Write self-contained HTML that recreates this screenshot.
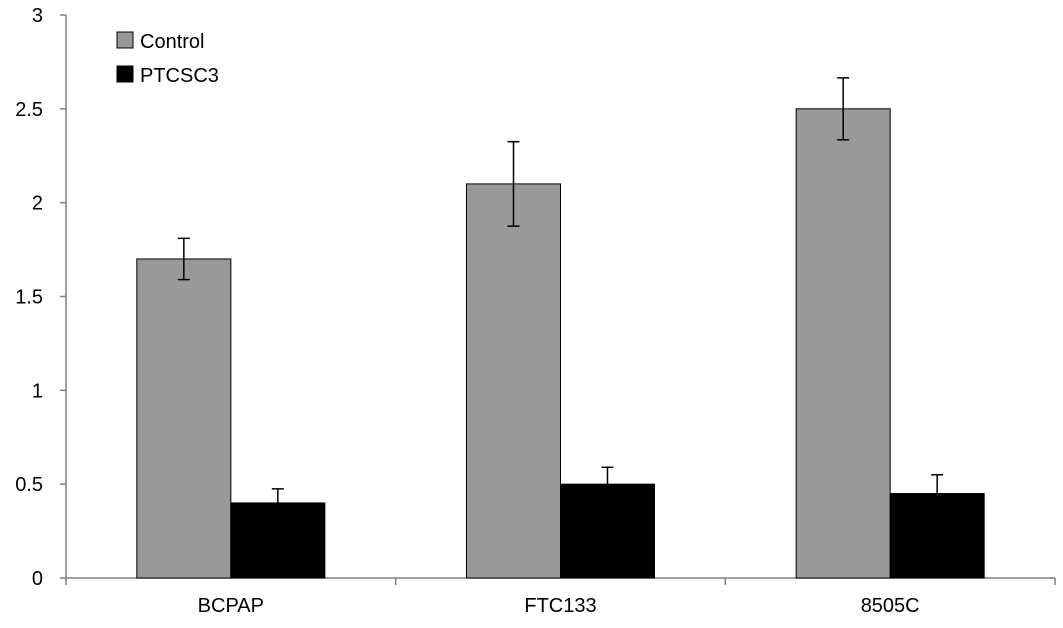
<!DOCTYPE html>
<html><head><meta charset="utf-8"><style>
body{margin:0;background:#fff;}
svg{display:block;font-family:"Liberation Sans",sans-serif;}
</style></head><body>
<svg id="chart" width="1063" height="628" xmlns="http://www.w3.org/2000/svg"></svg>
<script>
const categories=["BCPAP","FTC133","8505C"];
const controlValues=[1.7,2.1,2.5];
const controlErrors=[0.11,0.225,0.165];
const ptcsc3Values=[0.4,0.5,0.45];
const ptcsc3Errors=[0.075,0.09,0.1];
const yTicks=[0,0.5,1,1.5,2,2.5,3];
const yTickLabels=["0","0.5","1","1.5","2","2.5","3"];

const svg=document.getElementById('chart');
const NS="http://www.w3.org/2000/svg";
const x0=66,x1=1055,y0=578,yTop=15,yMax=3;
const catW=(x1-x0)/categories.length;
const barW=94;
function yScale(v){return y0-(v/yMax)*(y0-yTop);}
function xCenter(i){return x0+catW*(i+0.5);}
function mk(tag,attrs,parent){const e=document.createElementNS(NS,tag);for(const k in attrs)e.setAttribute(k,attrs[k]);(parent||svg).appendChild(e);return e;}

const yAxis=mk('line',{x1:x0,y1:yTop,x2:x0,y2:y0,stroke:'#7f7f7f','stroke-width':1.5});


yTicks.forEach((t,i)=>{
  const y=yScale(t);
  const tk=mk('line',{x1:x0-6,y1:y,x2:x0,y2:y,stroke:'#7f7f7f','stroke-width':1.5});
  
  
  const lb=mk('text',{x:x0-23,y:y+7,'text-anchor':'end','font-size':20,fill:'#000'});
  lb.textContent=yTickLabels[i];
  
  
});
const xAxis=mk('line',{x1:x0,y1:y0,x2:x1,y2:y0,stroke:'#7f7f7f','stroke-width':1.5});


for(let i=0;i<=categories.length;i++){
  const x=x0+catW*i;
  const tk=mk('line',{x1:x,y1:y0,x2:x,y2:y0+7,stroke:'#7f7f7f','stroke-width':1.5});
  
  
}
function errBar(cx,v,e){
  const g=mk('g',{stroke:'#000','stroke-width':1.5});
  
  
  mk('line',{x1:cx,y1:yScale(v+e),x2:cx,y2:yScale(v-e)},g);
  mk('line',{x1:cx-6,y1:yScale(v+e),x2:cx+6,y2:yScale(v+e)},g);
  mk('line',{x1:cx-6,y1:yScale(v-e),x2:cx+6,y2:yScale(v-e)},g);
}
categories.forEach((c,i)=>{
  const cx=xCenter(i);
  const b1=mk('rect',{x:cx-barW,y:yScale(controlValues[i]),width:barW,height:y0-yScale(controlValues[i]),fill:'#999999',stroke:'#000','stroke-width':1});
  
  
  const b2=mk('rect',{x:cx,y:yScale(ptcsc3Values[i]),width:barW,height:y0-yScale(ptcsc3Values[i]),fill:'#000',stroke:'#000','stroke-width':1});
  
  
  errBar(cx-barW/2,controlValues[i],controlErrors[i]);
  errBar(cx+barW/2,ptcsc3Values[i],ptcsc3Errors[i]);
  const lb=mk('text',{x:cx,y:612,'text-anchor':'middle','font-size':20,fill:'#000'});
  lb.textContent=c;
  
  
});
const legend=mk('g',{});


const s1=mk('rect',{x:117,y:32,width:16,height:16,fill:'#999',stroke:'#000','stroke-width':1},legend);


const t1=mk('text',{x:140,y:48,'font-size':20,fill:'#000'},legend);
t1.textContent='Control';


const s2=mk('rect',{x:117,y:66,width:16,height:16,fill:'#000',stroke:'#000','stroke-width':1},legend);


const t2=mk('text',{x:140,y:82,'font-size':20,fill:'#000'},legend);
t2.textContent='PTCSC3';


</script>
</body></html>
